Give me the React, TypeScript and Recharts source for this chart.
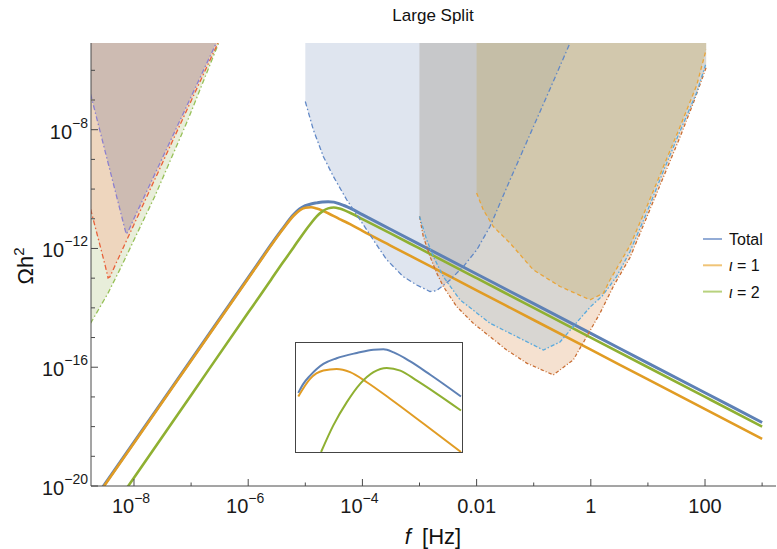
import React from 'react';
import { ComposedChart, LineChart, Line, Area, XAxis, YAxis } from 'recharts';

// ---------- main spectra (x = log10 f [Hz], y = log10 Ωh²) ----------
const curveLogF = [-8.7, -8, -7, -6, -5.8, -5.6, -5.4, -5.2, -5.1, -5.0, -4.9, -4.8, -4.7, -4.6, -4.5, -4.4, -4.3, -4.2, -4, -3.5, -3, -2, -1, 0, 1, 2, 3];
const totalLogOmega = [-20.46, -18.52, -15.75, -12.98, -12.425, -11.87, -11.34, -10.85, -10.67, -10.56, -10.5, -10.465, -10.436, -10.423, -10.44, -10.5, -10.57, -10.66, -10.86, -11.36, -11.86, -12.86, -13.86, -14.86, -15.86, -16.86, -17.86];
const iota1LogOmega = [-20.49, -18.55, -15.78, -13.01, -12.455, -11.9, -11.37, -10.89, -10.72, -10.63, -10.61, -10.653, -10.725, -10.813, -10.908, -11.01, -11.1, -11.2, -11.41, -11.91, -12.41, -13.41, -14.41, -15.41, -16.41, -17.41, -18.41];
const iota2LogOmega = [-21.67, -19.72, -16.94, -14.16, -13.61, -13.05, -12.49, -11.95, -11.67, -11.4, -11.15, -10.92, -10.75, -10.65, -10.62, -10.657, -10.727, -10.814, -11.01, -11.5, -12.0, -13.0, -14.0, -15.0, -16.0, -17.0, -18.0];

// ---------- sensitivity curves ----------
const ptaGreenF = [-8.76, -8.455, -8.222, -7.93, -7.637, -7.054, -6.517];
const ptaGreenO = [-14.52, -13.505, -12.61, -11.43, -10.25, -7.66, -5.08];
const ptaRedF = [-8.76, -8.6, -8.5, -8.455, -8.42, -8.3, -8.0, -7.5, -7.0, -6.53];
const ptaRedO = [-10.68, -11.86, -12.61, -12.99, -12.95, -12.44, -11.19, -9.11, -7.03, -5.08];
const ptaPurpleF = [-8.76, -8.5, -8.25, -8.17, -8.135, -8.1, -8.0, -7.5, -7.0, -6.559];
const ptaPurpleO = [-6.8, -8.77, -10.66, -11.27, -11.52, -11.42, -10.99, -8.94, -6.89, -5.08];

const lisaF = [-5.0, -4.86, -4.685, -4.51, -4.275, -4.042, -3.809, -3.574, -3.284, -3.049, -2.816, -2.699, -2.466, -2.233, -1.998, -1.765, -1.415, -0.772, -0.364];
const lisaO = [-7.05, -8.0, -8.9, -9.57, -10.36, -11.03, -11.71, -12.38, -12.95, -13.23, -13.45, -13.42, -13.06, -12.61, -12.05, -11.26, -9.69, -6.88, -5.08];

const skyF = [-3.0, -2.874, -2.758, -2.583, -2.291, -1.765, -1.298, -0.832, -0.539, -0.25, 0.0, 0.2, 0.45, 0.687, 0.979, 1.27, 1.562, 1.855, 2.02];
const skyO = [-10.92, -11.71, -12.27, -12.95, -13.73, -14.52, -14.97, -15.42, -15.15, -14.5, -13.95, -13.6, -12.95, -12.1, -10.8, -9.4, -8.05, -6.75, -5.75];

const rustF = [-3.0, -2.934, -2.816, -2.699, -2.583, -2.349, -2.058, -1.765, -1.473, -1.123, -0.657, -0.306, -0.072, 0.161, 0.394, 0.687, 0.979, 1.27, 1.562, 1.795, 2.02];
const rustO = [-10.92, -11.6, -12.27, -12.83, -13.28, -13.96, -14.52, -14.97, -15.42, -15.86, -16.26, -15.75, -14.97, -14.18, -13.28, -12.3, -10.95, -9.6, -8.25, -7.1, -5.9];

const amberF = [-2.0, -1.883, -1.708, -1.415, -1.007, -0.539, -0.014, 0.219, 0.336, 0.687, 0.979, 1.27, 1.562, 1.855, 2.02];
const amberO = [-10.13, -10.7, -11.26, -11.82, -12.72, -13.28, -13.73, -13.51, -13.06, -11.9, -10.6, -9.25, -7.9, -6.5, -5.3];

// ---------- inset ----------
const insetTotalF = [-5.33, -5.286, -5.227, -5.169, -5.111, -4.995, -4.819, -4.673, -4.586, -4.497, -4.352, -4.177, -3.909];
const insetTotalO = [-10.826, -10.731, -10.644, -10.574, -10.521, -10.461, -10.405, -10.37, -10.367, -10.399, -10.494, -10.635, -10.864];
const insetIota1F = [-5.33, -5.227, -5.111, -4.995, -4.877, -4.731, -4.528, -4.235, -3.909];
const insetIota1O = [-10.865, -10.678, -10.591, -10.574, -10.608, -10.714, -10.888, -11.152, -11.45];
const insetIota2F = [-5.131, -5.024, -4.906, -4.79, -4.673, -4.557, -4.439, -4.294, -4.119, -3.909];
const insetIota2O = [-11.45, -11.169, -10.924, -10.731, -10.608, -10.563, -10.591, -10.697, -10.836, -11.012];

// ---------- axes ----------
const xTicks = [-8, -7, -6, -5, -4, -3, -2, -1, 0, 1, 2, 3];
const xMajorLabels: Record<number, [string, string]> = {
  [-8]: ['10', '\u22128'],
  [-6]: ['10', '\u22126'],
  [-4]: ['10', '\u22124'],
  [-2]: ['0.01', ''],
  [0]: ['1', ''],
  [2]: ['100', ''],
};
const yTicks = [-20, -19, -18, -17, -16, -15, -14, -13, -12, -11, -10, -9, -8, -7, -6];
const yMajorLabels: Record<number, [string, string]> = {
  [-20]: ['10', '\u221220'],
  [-16]: ['10', '\u221216'],
  [-12]: ['10', '\u221212'],
  [-8]: ['10', '\u22128'],
};

const seriesNames = ['Total', '\u03b9 = 1', '\u03b9 = 2'];
const seriesColors = ['#5e81b5', '#e19c24', '#8fb032'];
const legendColors = ['#93acd6', '#f0c477', '#b8d27e'];

const zip = (xs: number[], ys: number[]) => xs.map((x, i) => ({ x, y: ys[i] }));
const mainData = curveLogF.map((x, i) => ({ x, total: totalLogOmega[i], i1: iota1LogOmega[i], i2: iota2LogOmega[i] }));

const X_DOMAIN: [number, number] = [-8.753, 3.243];
const Y_DOMAIN: [number, number] = [-20, -5.08];
const FONT = '"Liberation Sans", Arial, Helvetica, sans-serif';
const TICK = '#4a4a4a';

const BottomTick = (p: any) => {
  const { x, y, payload } = p;
  const v = payload.value;
  const lab = xMajorLabels[v];
  return (
    <g>
      <line x1={x} x2={x} y1={y} y2={y - (lab ? 7 : 3.5)} stroke={TICK} strokeWidth={1} />
      {lab && (
        <text x={lab[1] ? x - 3 : x} y={y + 27} textAnchor="middle" fontSize={20} fill="#1a1a1a" fontFamily={FONT}>
          <tspan>{lab[0]}</tspan>
          {lab[1] && <tspan dy={-10} fontSize={14}>{lab[1]}</tspan>}
        </text>
      )}
    </g>
  );
};
const TopTick = (p: any) => {
  const { x, y, payload } = p;
  const major = xMajorLabels[payload.value] !== undefined;
  return <line x1={x} x2={x} y1={y} y2={y + (major ? 7 : 3.5)} stroke={TICK} strokeWidth={1} />;
};
const LeftTick = (p: any) => {
  const { x, y, payload } = p;
  const lab = yMajorLabels[payload.value];
  return (
    <g>
      <line x1={x} x2={x + (lab ? 7 : 4)} y1={y} y2={y} stroke={TICK} strokeWidth={1} />
      {lab && (
        <text x={x - 3} y={y + 9} textAnchor="end" fontSize={20} fill="#1a1a1a" fontFamily={FONT}>
          <tspan>{lab[0]}</tspan>
          <tspan dy={-11} fontSize={14}>{lab[1]}</tspan>
        </text>
      )}
    </g>
  );
};
const RightTick = (p: any) => {
  const { x, y, payload } = p;
  const major = yMajorLabels[payload.value] !== undefined;
  return <line x1={x} x2={x - (major ? 7 : 4)} y1={y} y2={y} stroke={TICK} strokeWidth={1} />;
};

type Region = { f: number[]; o: number[]; fill: string; fillOpacity: number; stroke: string; dash: string };
const regions: Region[] = [
  { f: ptaGreenF, o: ptaGreenO, fill: '#e8eeda', fillOpacity: 1, stroke: '#97c158', dash: '5 2.5 1.5 2.5' },
  { f: ptaRedF, o: ptaRedO, fill: '#eed6be', fillOpacity: 1, stroke: '#e8613a', dash: '5 2.5 1.5 2.5' },
  { f: ptaPurpleF, o: ptaPurpleO, fill: '#cdbbb2', fillOpacity: 1, stroke: '#8c80cf', dash: '5 2.5 1.5 2.5' },
  { f: lisaF, o: lisaO, fill: '#7f97bf', fillOpacity: 0.25, stroke: '#6188c6', dash: '5 2.5 1.5 2.5' },
  { f: rustF, o: rustO, fill: '#d78743', fillOpacity: 0.25, stroke: '#c96e34', dash: '3.5 2 1 2' },
  { f: skyF, o: skyO, fill: '#96bed7', fillOpacity: 0.3, stroke: '#5aaadd', dash: '4 2 1.5 2' },
  { f: amberF, o: amberO, fill: '#c3a550', fillOpacity: 0.28, stroke: '#e9a53a', dash: '4 3' },
];

export default function App() {
  return (
    <div style={{ position: 'absolute', left: 0, top: 0, width: 777, height: 549, background: '#fff' }}>
      <ComposedChart width={777} height={549} margin={{ top: 43, right: 1, bottom: 0, left: 0 }}>
        <XAxis
          type="number"
          dataKey="x"
          domain={X_DOMAIN}
          allowDataOverflow
          ticks={xTicks}
          interval={0}
          height={63}
          tickSize={0}
          tickMargin={0}
          tickLine={false}
          axisLine={{ stroke: TICK, strokeWidth: 1 }}
          tick={<BottomTick />}
        />
        <XAxis
          xAxisId="top"
          orientation="top"
          type="number"
          dataKey="x"
          domain={X_DOMAIN}
          allowDataOverflow
          ticks={xTicks}
          interval={0}
          height={0}
          tickSize={0}
          tickMargin={0}
          tickLine={false}
          axisLine={{ stroke: TICK, strokeWidth: 1 }}
          tick={<TopTick />}
        />
        <YAxis
          type="number"
          domain={Y_DOMAIN}
          allowDataOverflow
          ticks={yTicks}
          interval={0}
          width={91}
          tickSize={0}
          tickMargin={0}
          tickLine={false}
          axisLine={{ stroke: TICK, strokeWidth: 1 }}
          tick={<LeftTick />}
        />
        <YAxis
          yAxisId="right"
          orientation="right"
          type="number"
          domain={Y_DOMAIN}
          allowDataOverflow
          ticks={yTicks}
          interval={0}
          width={0}
          tickSize={0}
          tickMargin={0}
          tickLine={false}
          axisLine={{ stroke: TICK, strokeWidth: 1 }}
          tick={<RightTick />}
        />
        {regions.map((r, i) => (
          <Area
            key={'a' + i}
            data={zip(r.f, r.o)}
            dataKey="y"
            type="linear"
            baseValue="dataMax"
            fill={r.fill}
            fillOpacity={r.fillOpacity}
            stroke="none"
            isAnimationActive={false}
            activeDot={false}
          />
        ))}
        <Line data={mainData} dataKey="total" type="monotone" stroke={seriesColors[0]} strokeWidth={3} dot={false} activeDot={false} isAnimationActive={false} />
        <Line data={mainData} dataKey="i1" type="monotone" stroke={seriesColors[1]} strokeWidth={2.6} dot={false} activeDot={false} isAnimationActive={false} />
        <Line data={mainData} dataKey="i2" type="monotone" stroke={seriesColors[2]} strokeWidth={2.6} dot={false} activeDot={false} isAnimationActive={false} />
        {regions.map((r, i) => (
          <Line
            key={'l' + i}
            data={zip(r.f, r.o)}
            dataKey="y"
            type="linear"
            stroke={r.stroke}
            strokeWidth={1.3}
            strokeDasharray={r.dash}
            dot={false}
            activeDot={false}
            isAnimationActive={false}
          />
        ))}
      </ComposedChart>

      <svg width={777} height={549} style={{ position: 'absolute', left: 0, top: 0, pointerEvents: 'none' }}>
        <text x={433} y={21} textAnchor="middle" fontSize={17} fill="#111" fontFamily={FONT}>Large Split</text>
        <text x={433} y={544} textAnchor="middle" fontSize={22} fill="#111" fontFamily={FONT}>
          <tspan fontStyle="italic">f</tspan>
          <tspan dx={5}> [Hz]</tspan>
        </text>
        <text transform="translate(33,266) rotate(-90)" textAnchor="middle" fontSize={22} fill="#111" fontFamily={FONT}>
          <tspan>Ωh</tspan>
          <tspan dy={-9} fontSize={15}>2</tspan>
        </text>
        {seriesNames.map((n, i) => {
          const y = 239 + i * 26.3;
          const parts = n.split(' = ');
          return (
            <g key={n}>
              <line x1={703} x2={722} y1={y} y2={y} stroke={legendColors[i]} strokeWidth={2} />
              <text x={729} y={y + 6} fontSize={16} fill="#111" fontFamily={FONT}>
                {parts.length > 1 ? (
                  <>
                    <tspan fontStyle="italic">{parts[0]}</tspan>
                    <tspan>{' = ' + parts[1]}</tspan>
                  </>
                ) : (
                  n
                )}
              </text>
            </g>
          );
        })}
      </svg>

      <div
        style={{
          position: 'absolute',
          left: 295,
          top: 342,
          width: 168,
          height: 111,
          border: '1px solid #444',
          boxSizing: 'border-box',
          background: '#fff',
        }}
      >
        <LineChart width={166} height={109} margin={{ top: 0, right: 0, bottom: 0, left: 0 }}>
          <XAxis type="number" dataKey="x" domain={[-5.35, -3.9]} allowDataOverflow hide />
          <YAxis type="number" domain={[-11.45, -10.3]} allowDataOverflow hide />
          <Line data={zip(insetTotalF, insetTotalO)} dataKey="y" type="monotone" stroke={seriesColors[0]} strokeWidth={2} dot={false} activeDot={false} isAnimationActive={false} />
          <Line data={zip(insetIota1F, insetIota1O)} dataKey="y" type="monotone" stroke={seriesColors[1]} strokeWidth={2} dot={false} activeDot={false} isAnimationActive={false} />
          <Line data={zip(insetIota2F, insetIota2O)} dataKey="y" type="monotone" stroke={seriesColors[2]} strokeWidth={2} dot={false} activeDot={false} isAnimationActive={false} />
        </LineChart>
      </div>
    </div>
  );
}
